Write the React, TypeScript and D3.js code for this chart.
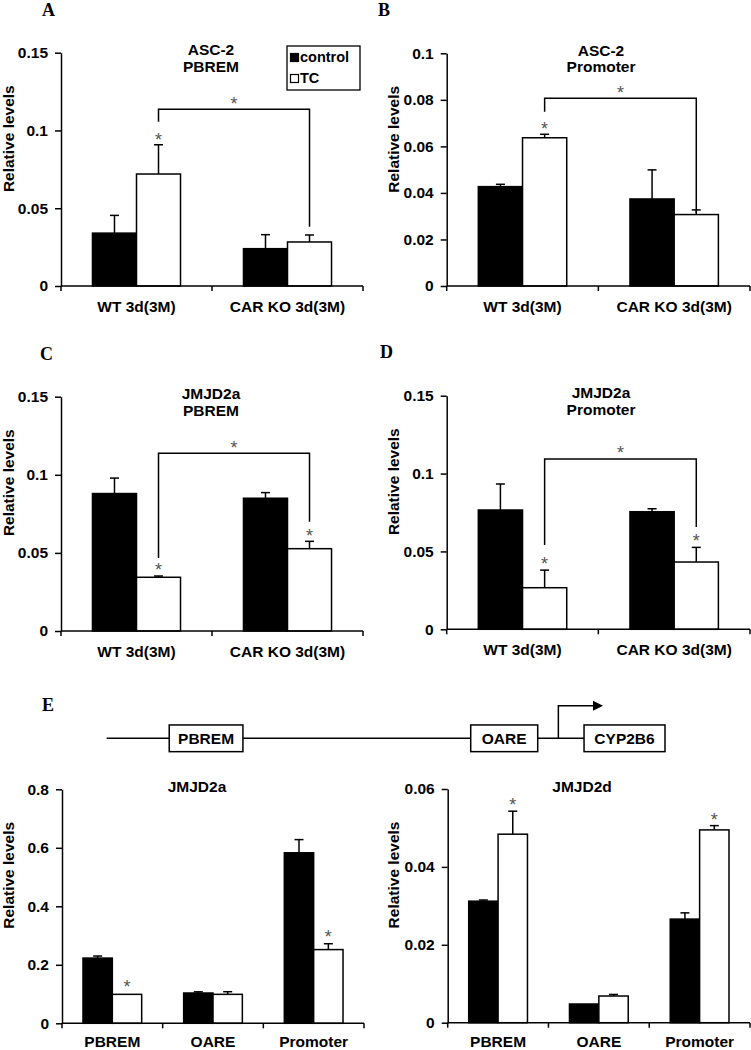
import React, { useRef, useEffect } from "react";
import * as d3 from "d3";

// categories
const groups = ["WT 3d(3M)", "CAR KO 3d(3M)"];
const regions = ["PBREM", "OARE", "Promoter"];
const seriesNames = ["control", "TC"];

// A: ASC-2 at PBREM
const asc2PbremControl = [0.034, 0.024];
const asc2PbremControlErr = [0.0114, 0.009];
const asc2PbremTC = [0.072, 0.0283];
const asc2PbremTCErr = [0.0188, 0.0045];
// B: ASC-2 at promoter
const asc2PromControl = [0.0427, 0.0374];
const asc2PromControlErr = [0.001, 0.0125];
const asc2PromTC = [0.0637, 0.0307];
const asc2PromTCErr = [0.0015, 0.002];
// C: JMJD2a at PBREM
const jmjPbremControl = [0.088, 0.085];
const jmjPbremControlErr = [0.0099, 0.0036];
const jmjPbremTC = [0.0344, 0.0527];
const jmjPbremTCErr = [0.0008, 0.0047];
// D: JMJD2a at promoter
const jmjPromControl = [0.0766, 0.0755];
const jmjPromControlErr = [0.0167, 0.0019];
const jmjPromTC = [0.0267, 0.0432];
const jmjPromTCErr = [0.0113, 0.0094];
// E left: JMJD2a over regions
const jmj2aControl = [0.223, 0.1036, 0.583];
const jmj2aControlErr = [0.007, 0.004, 0.045];
const jmj2aTC = [0.099, 0.099, 0.252];
const jmj2aTCErr = [0, 0.009, 0.02];
// E right: JMJD2d over regions
const jmj2dControl = [0.0312, 0.0048, 0.0266];
const jmj2dControlErr = [0.0003, 0, 0.0016];
const jmj2dTC = [0.0484, 0.00685, 0.0495];
const jmj2dTCErr = [0.0059, 0.0004, 0.0011];

// tick values
const ticks015 = [0, 0.05, 0.1, 0.15];
const ticks01 = [0, 0.02, 0.04, 0.06, 0.08, 0.1];
const ticks08 = [0, 0.2, 0.4, 0.6, 0.8];
const ticks006 = [0, 0.02, 0.04, 0.06];

// schematic of the CYP2B6 upstream region (arbitrary units 0..100)
const diagramBoxes = [
  { name: "PBREM", start: 11.2, end: 24.4 },
  { name: "OARE", start: 65.2, end: 77.2 },
  { name: "CYP2B6", start: 85.5, end: 100 },
];
const tssPos = 80.9;
const arrowEnd = 88.9;

const SANS = "'Liberation Sans', Arial, sans-serif";
const SERIF = "'Liberation Serif', 'Times New Roman', serif";

const panels = [
  {
    letter: "A", lx: 42, ly: 16,
    title: ["ASC-2", "PBREM"], tx: 211,
    cats: groups, control: asc2PbremControl, controlErr: asc2PbremControlErr,
    tc: asc2PbremTC, tcErr: asc2PbremTCErr, ticks: ticks015,
    x0: 61, x1: 363, y0: 286, yTop: 52.7, labelX: 14, xlab: 26,
    stars: [[0, 1, 0.097]],
    bracket: { a: [0, 1], b: [1, 1], y: 0.1136, ya: 0.1056, yb: 0.0381, star: 0.1202 },
    legend: true,
  },
  {
    letter: "B", lx: 378, ly: 16,
    title: ["ASC-2", "Promoter"], tx: 601,
    cats: groups, control: asc2PromControl, controlErr: asc2PromControlErr,
    tc: asc2PromTC, tcErr: asc2PromTCErr, ticks: ticks01,
    x0: 446.7, x1: 750, y0: 286, yTop: 53.3, labelX: 399, xlab: 26,
    stars: [[0, 1, 0.0696]],
    bracket: { a: [0, 1], b: [1, 1], y: 0.0807, ya: 0.0749, yb: 0.0314, star: 0.0851 },
  },
  {
    letter: "C", lx: 40, ly: 360,
    title: ["JMJD2a", "PBREM"], tx: 211,
    cats: groups, control: jmjPbremControl, controlErr: jmjPbremControlErr,
    tc: jmjPbremTC, tcErr: jmjPbremTCErr, ticks: ticks015,
    x0: 61, x1: 363, y0: 631, yTop: 396.7, labelX: 14, xlab: 26,
    stars: [[0, 1, 0.0423], [1, 1, 0.064]],
    bracket: { a: [0, 1], b: [1, 1], y: 0.1138, ya: 0.0467, yb: 0.07, star: 0.1204 },
  },
  {
    letter: "D", lx: 380, ly: 358,
    title: ["JMJD2a", "Promoter"], tx: 601,
    cats: groups, control: jmjPromControl, controlErr: jmjPromControlErr,
    tc: jmjPromTC, tcErr: jmjPromTCErr, ticks: ticks015,
    x0: 446.7, x1: 750, y0: 629.3, yTop: 395.7, labelX: 399, xlab: 26,
    stars: [[0, 1, 0.0451], [1, 1, 0.0595]],
    bracket: { a: [0, 1], b: [1, 1], y: 0.1094, ya: 0.0541, yb: 0.0657, star: 0.1164 },
  },
  {
    title: ["JMJD2a"], tx: 197,
    cats: regions, control: jmj2aControl, controlErr: jmj2aControlErr,
    tc: jmj2aTC, tcErr: jmj2aTCErr, ticks: ticks08,
    x0: 62, x1: 364, y0: 1023.3, yTop: 789.3, labelX: 14, xlab: 24,
    stars: [[0, 1, 0.139], [2, 1, 0.31]],
  },
  {
    title: ["JMJD2d"], tx: 582,
    cats: regions, control: jmj2dControl, controlErr: jmj2dControlErr,
    tc: jmj2dTC, tcErr: jmj2dTCErr, ticks: ticks006,
    x0: 447.7, x1: 750, y0: 1022.7, yTop: 789, labelX: 399, xlab: 24,
    stars: [[0, 1, 0.057], [2, 1, 0.0533]],
  },
];

const drawPanel = (svg, p) => {
  const g = svg.append("g");
  const x = d3.scaleBand().domain(p.cats).range([p.x0, p.x1]);
  const xs = d3.scaleBand().domain(seriesNames).range([0, x.bandwidth()]).paddingOuter(0.715);
  const y = d3.scaleLinear().domain([0, p.ticks[p.ticks.length - 1]]).range([p.y0, p.yTop]);
  const barCenter = (ci, si) => x(p.cats[ci]) + xs(seriesNames[si]) + xs.bandwidth() / 2;

  // bars + error bars (upper only)
  const rows = [];
  p.cats.forEach((c, i) => {
    rows.push({ c, s: 0, v: p.control[i], e: p.controlErr[i] });
    rows.push({ c, s: 1, v: p.tc[i], e: p.tcErr[i] });
  });
  rows.forEach((d) => {
    const cx = x(d.c) + xs(seriesNames[d.s]) + xs.bandwidth() / 2;
    if (d.e > 0) {
      g.append("line").attr("x1", cx).attr("x2", cx).attr("y1", y(d.v)).attr("y2", y(d.v + d.e))
        .attr("stroke", "#000").attr("stroke-width", 1.5);
      g.append("line").attr("x1", cx - 4.5).attr("x2", cx + 4.5).attr("y1", y(d.v + d.e)).attr("y2", y(d.v + d.e))
        .attr("stroke", "#000").attr("stroke-width", 1.5);
    }
  });
  g.selectAll(".bar")
    .data(rows)
    .enter()
    .append("rect")
    .attr("x", (d) => x(d.c) + xs(seriesNames[d.s]))
    .attr("width", xs.bandwidth())
    .attr("y", (d) => y(d.v))
    .attr("height", (d) => p.y0 - y(d.v))
    .attr("fill", (d) => (d.s === 0 ? "#000" : "#fff"))
    .attr("stroke", "#000")
    .attr("stroke-width", 1.5);

  // y axis
  const yAxis = d3.axisLeft(y).tickValues(p.ticks).tickSize(6).tickSizeOuter(0).tickPadding(7)
    .tickFormat(d3.format("~g"));
  const yg = g.append("g").attr("transform", `translate(${p.x0},0)`).call(yAxis);
  yg.select(".domain").attr("stroke-width", 1.5);
  yg.selectAll("line").attr("stroke-width", 1.5);
  yg.selectAll("text").attr("font-family", SANS).attr("font-weight", "bold").attr("font-size", 15.5).attr("fill", "#000");

  // x axis
  g.append("line").attr("x1", p.x0).attr("x2", p.x1).attr("y1", p.y0).attr("y2", p.y0)
    .attr("stroke", "#000").attr("stroke-width", 1.5);
  const bounds = [p.x0, ...p.cats.map((c) => x(c) + x.bandwidth())];
  bounds.forEach((bx) => {
    g.append("line").attr("x1", bx).attr("x2", bx).attr("y1", p.y0).attr("y2", p.y0 + 5)
      .attr("stroke", "#000").attr("stroke-width", 1.5);
  });
  p.cats.forEach((c) => {
    g.append("text").attr("x", x(c) + x.bandwidth() / 2).attr("y", p.y0 + p.xlab)
      .attr("text-anchor", "middle").attr("font-family", SANS).attr("font-weight", "bold")
      .attr("font-size", 15.5).text(c);
  });

  // axis title
  g.append("text")
    .attr("transform", `translate(${p.labelX},${p.yTop + 86}) rotate(-90)`)
    .attr("text-anchor", "middle").attr("font-family", SANS).attr("font-weight", "bold")
    .attr("font-size", 15.5).text("Relative levels");

  // chart title
  p.title.forEach((t, i) => {
    g.append("text").attr("x", p.tx).attr("y", p.yTop + 2.5 + i * 16.5)
      .attr("text-anchor", "middle").attr("font-family", SANS).attr("font-weight", "bold")
      .attr("font-size", 15.5).text(t);
  });

  if (p.letter) {
    g.append("text").attr("x", p.lx).attr("y", p.ly).attr("font-family", SERIF)
      .attr("font-weight", "bold").attr("font-size", 18).text(p.letter);
  }

  // significance stars
  const star = (sx, v) =>
    g.append("text").attr("x", sx).attr("y", y(v)).attr("dy", "0.6em").attr("text-anchor", "middle")
      .attr("font-family", SANS).attr("font-size", 18).attr("fill", "#555").text("*");
  p.stars.forEach(([ci, si, v]) => star(barCenter(ci, si), v));

  if (p.bracket) {
    const b = p.bracket;
    const xa = barCenter(b.a[0], b.a[1]);
    const xb = barCenter(b.b[0], b.b[1]);
    g.append("path")
      .attr("d", `M${xa},${y(b.ya)}V${y(b.y)}H${xb}V${y(b.yb)}`)
      .attr("fill", "none").attr("stroke", "#000").attr("stroke-width", 1.5);
    star((xa + xb) / 2, b.star);
  }

  if (p.legend) {
    const lg = g.append("g").attr("transform", "translate(287,46)");
    lg.append("rect").attr("width", 73).attr("height", 44).attr("fill", "#fff")
      .attr("stroke", "#000").attr("stroke-width", 1.3);
    seriesNames.forEach((s, i) => {
      lg.append("rect").attr("x", 3.5).attr("y", 7.5 + i * 21).attr("width", 8).attr("height", 8)
        .attr("fill", i === 0 ? "#000" : "#fff").attr("stroke", "#000").attr("stroke-width", 1.2);
      lg.append("text").attr("x", 13).attr("y", 16 + i * 21).attr("font-family", SANS)
        .attr("font-weight", "bold").attr("font-size", 14.5).text(s);
    });
  }
};

const drawDiagram = (svg) => {
  const g = svg.append("g");
  const sx = d3.scaleLinear().domain([0, 100]).range([106.7, 665]);
  const ly = 738.3;
  const boxH = 26.7;
  g.append("text").attr("x", 42).attr("y", 711).attr("font-family", SERIF)
    .attr("font-weight", "bold").attr("font-size", 18).text("E");
  g.append("line").attr("x1", sx(0)).attr("x2", sx(diagramBoxes[2].start)).attr("y1", ly).attr("y2", ly)
    .attr("stroke", "#000").attr("stroke-width", 1.5);
  diagramBoxes.forEach((b) => {
    g.append("rect").attr("x", sx(b.start)).attr("y", ly - boxH / 2).attr("width", sx(b.end) - sx(b.start))
      .attr("height", boxH).attr("fill", "#fff").attr("stroke", "#000").attr("stroke-width", 1.5);
    g.append("text").attr("x", (sx(b.start) + sx(b.end)) / 2).attr("y", ly + 5.5)
      .attr("text-anchor", "middle").attr("font-family", SANS).attr("font-weight", "bold")
      .attr("font-size", 15.5).text(b.name);
  });
  const top = ly - 32.6;
  g.append("path").attr("d", `M${sx(tssPos)},${ly}V${top}H${sx(arrowEnd) - 9}`)
    .attr("fill", "none").attr("stroke", "#000").attr("stroke-width", 1.5);
  g.append("path")
    .attr("d", `M${sx(arrowEnd)},${top}L${sx(arrowEnd) - 10},${top - 5}L${sx(arrowEnd) - 10},${top + 5}Z`)
    .attr("fill", "#000");
};

const App = () => {
  const svgRef = useRef();
  useEffect(() => {
    const svg = d3.select(svgRef.current);
    svg.selectAll("*").remove();
    panels.forEach((p) => drawPanel(svg, p));
    drawDiagram(svg);
  }, []);
  return (
    <svg
      ref={svgRef}
      width={751}
      height={1050}
      style={{ position: "absolute", left: 0, top: 0, background: "#fff" }}
    />
  );
};

export default App;
